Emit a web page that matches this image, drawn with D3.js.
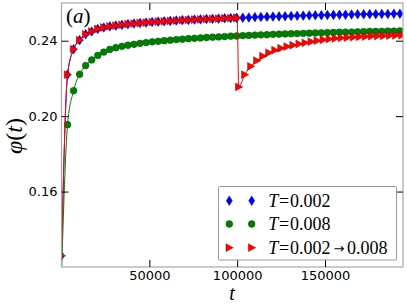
<!DOCTYPE html>
<html><head><meta charset="utf-8">
<script src="https://cdn.jsdelivr.net/npm/d3@7"></script>
<style>body{margin:0;background:#fff} svg{display:block}</style>
</head><body><svg id="c" width="407" height="304"></svg>
<script>
// ---- data ----
const tGrid = [0, 3440, 6880, 10320, 13760, 17200, 20640, 24080, 27520, 30960, 34400, 37840, 41280, 44720, 48160, 51600, 55040, 58480, 61920, 65360, 68800, 72240, 75680, 79120, 82560, 86000, 89440, 92880, 96320, 99760, 103200, 106640, 110080, 113520, 116960, 120400, 123840, 127280, 130720, 134160, 137600, 141040, 144480, 147920, 151360, 154800, 158240, 161680, 165120, 168560, 172000, 175440, 178880, 182320, 185760, 189200, 192640];
const phiT002 = [0.126, 0.2220, 0.2355, 0.2403, 0.2434, 0.2449, 0.2462, 0.2470, 0.2476, 0.2480, 0.2484, 0.2488, 0.2491, 0.2494, 0.2496, 0.2499, 0.2501, 0.2503, 0.2505, 0.2507, 0.2509, 0.2510, 0.2512, 0.2513, 0.2515, 0.2516, 0.2517, 0.2519, 0.2520, 0.2521, 0.2522, 0.2523, 0.2525, 0.2526, 0.2527, 0.2528, 0.2529, 0.2530, 0.2531, 0.2532, 0.2533, 0.2534, 0.2535, 0.2535, 0.2536, 0.2537, 0.2538, 0.2538, 0.2539, 0.2540, 0.2540, 0.2541, 0.2541, 0.2542, 0.2542, 0.2543, 0.2543];
const phiT008 = [0.116, 0.1955, 0.2135, 0.2222, 0.2268, 0.2298, 0.2322, 0.2340, 0.2354, 0.2363, 0.2370, 0.2376, 0.2381, 0.2386, 0.2390, 0.2394, 0.2397, 0.2400, 0.2403, 0.2406, 0.2408, 0.2411, 0.2413, 0.2415, 0.2417, 0.2419, 0.2420, 0.2422, 0.2424, 0.2425, 0.2427, 0.2428, 0.2430, 0.2431, 0.2432, 0.2434, 0.2435, 0.2436, 0.2437, 0.2438, 0.2439, 0.2440, 0.2441, 0.2442, 0.2443, 0.2444, 0.2445, 0.2446, 0.2446, 0.2447, 0.2448, 0.2449, 0.2449, 0.2450, 0.2451, 0.2451, 0.2452];
const redT = [0, 3440, 6880, 10320, 13760, 17200, 20640, 24080, 27520, 30960, 34400, 37840, 41280, 44720, 48160, 51600, 55040, 58480, 61920, 65360, 68800, 72240, 75680, 79120, 82560, 86000, 89440, 92880, 96320, 99760, 100000,
  100900, 104340, 107780, 111220, 114660, 118100, 121540, 124980, 128420, 131860, 135300, 138740, 142180, 145620, 149060, 152500, 155940, 159380, 162820, 166260, 169700, 173140, 176580, 180020, 183460, 186900, 190340, 193780];
const redPhi = [0.126, 0.2220, 0.2355, 0.2403, 0.2434, 0.2449, 0.2462, 0.2470, 0.2476, 0.2480, 0.2484, 0.2488, 0.2491, 0.2494, 0.2496, 0.2499, 0.2501, 0.2503, 0.2505, 0.2507, 0.2509, 0.2510, 0.2512, 0.2513, 0.2515, 0.2516, 0.2517, 0.2519, 0.2520, 0.2521, 0.2521,
  0.2155, 0.2220, 0.2264, 0.2294, 0.2318, 0.2336, 0.2350, 0.2360, 0.2369, 0.2376, 0.2383, 0.2389, 0.2395, 0.2400, 0.2405, 0.2409, 0.2412, 0.2415, 0.2417, 0.2419, 0.2421, 0.2422, 0.2424, 0.2425, 0.2426, 0.2427, 0.2428, 0.2429];
const yTicks = [0.16, 0.20, 0.24];
const xTicks = [50000, 100000, 150000];
const legendFrom = ["0.002", "0.008", "0.002"];
const legendTo = [null, null, "0.008"];

// ---- layout ----
const svg = d3.select('#c');
const L = 61.5, R = 403, T = 3, B = 267;
const x = d3.scaleLinear().domain([0, 194400]).range([L, R]);
const y = d3.scaleLinear().domain([0.12, 0.26]).range([B, T]);

svg.append('defs').append('clipPath').attr('id', 'clip')
  .append('rect').attr('x', L).attr('y', T).attr('width', R - L).attr('height', B - T);

const styles = [
  {color: '#0000ff', edge: '#00008b', shape: 'diamond'},
  {color: '#008000', edge: '#005000', shape: 'circle'},
  {color: '#ff0000', edge: '#a00000', shape: 'tri'}
];
function markerPath(shape) {
  if (shape === 'diamond') return 'M0,-4.8L3,0L0,4.8L-3,0Z';
  if (shape === 'tri') return 'M-3.3,-3.9L4,0L-3.3,3.9Z';
  return d3.symbol(d3.symbolCircle, 36)();
}

const series = [
  {t: tGrid, v: phiT002, s: styles[0]},
  {t: tGrid, v: phiT008, s: styles[1]},
  {t: redT, v: redPhi, s: styles[2]}
];

const plot = svg.append('g').attr('clip-path', 'url(#clip)');
const line = d3.line().x(d => x(d[0])).y(d => y(d[1])).curve(d3.curveMonotoneX);

series.forEach(sr => {
  const pts = sr.t.map((t, i) => [t, sr.v[i]]);
  const g = plot.append('g');
  g.append('path').datum(pts).attr('d', line)
    .attr('fill', 'none').attr('stroke', sr.s.color).attr('stroke-width', 1);
  g.selectAll('path.m').data(pts).enter().append('path').attr('class', 'm')
    .attr('d', markerPath(sr.s.shape))
    .attr('transform', d => `translate(${x(d[0])},${y(d[1])})`)
    .attr('fill', sr.s.color).attr('stroke', sr.s.edge).attr('stroke-width', 0.5);
});

// frame
svg.append('rect').attr('x', L).attr('y', T).attr('width', R - L).attr('height', B - T)
  .attr('fill', 'none').attr('stroke', '#a8a8a8').attr('stroke-width', 1.2);

// axes
function styleAxis(g) {
  g.select('.domain').remove();
  g.selectAll('.tick line').attr('stroke', '#000').attr('stroke-width', 1);
  g.selectAll('.tick text').attr('fill', '#000')
    .style('font-family', '"DejaVu Sans", sans-serif').style('font-size', '13px');
}
svg.append('g').attr('transform', `translate(${L},0)`)
  .call(d3.axisLeft(y).tickValues(yTicks).tickSize(-7).tickPadding(4).tickFormat(d3.format('.2f'))).call(styleAxis);
svg.append('g').attr('transform', `translate(${R},0)`)
  .call(d3.axisRight(y).tickValues(yTicks).tickSize(-7).tickFormat('')).call(styleAxis);
svg.append('g').attr('transform', `translate(0,${B})`)
  .call(d3.axisBottom(x).tickValues(xTicks).tickSize(-7).tickPadding(4).tickFormat(d3.format('d'))).call(styleAxis);
svg.append('g').attr('transform', `translate(0,${T})`)
  .call(d3.axisTop(x).tickValues(xTicks).tickSize(-7).tickFormat('')).call(styleAxis);

// labels
const serif = '"Liberation Serif", "DejaVu Serif", serif';
const yl = svg.append('text').attr('transform', 'translate(22,136) rotate(-90)')
  .attr('text-anchor', 'middle').style('font-family', serif).style('font-size', '24px');
yl.append('tspan').style('font-style', 'italic').text('φ');
yl.append('tspan').text('(');
yl.append('tspan').style('font-style', 'italic').text('t');
yl.append('tspan').text(')');

svg.append('text').attr('x', 232).attr('y', 300).attr('text-anchor', 'middle')
  .style('font-family', serif).style('font-style', 'italic').style('font-size', '20px').text('t');

const pa = svg.append('text').attr('x', 66).attr('y', 23).style('font-family', serif).style('font-size', '21px');
pa.append('tspan').text('(');
pa.append('tspan').style('font-style', 'italic').text('a');
pa.append('tspan').text(')');

// legend
const lg = svg.append('g');
lg.append('rect').attr('x', 218.5).attr('y', 186.5).attr('width', 178).attr('height', 73.5)
  .attr('fill', '#fff').attr('fill-opacity', 0.9).attr('stroke', '#999').attr('stroke-width', 1).attr('rx', 1);
const rowY = [200.7, 224, 247.7];
styles.forEach((s, i) => {
  [229.3, 251.7].forEach(mx => {
    lg.append('path').attr('d', markerPath(s.shape))
      .attr('transform', `translate(${mx},${rowY[i]})`)
      .attr('fill', s.color).attr('stroke', s.edge).attr('stroke-width', 0.5);
  });
  const txt = lg.append('text').attr('y', rowY[i] + 5.8).style('font-family', serif).style('font-size', '18px');
  txt.append('tspan').attr('x', 268.3).style('font-style', 'italic').text('T');
  txt.append('tspan').attr('x', 279).text('=');
  txt.append('tspan').attr('x', 290).text(legendFrom[i]);
  if (legendTo[i]) {
    txt.append('tspan').attr('x', 333.5).attr('dy', -0.5)
      .style('font-family', '"DejaVu Sans", sans-serif').style('font-size', '13px').text('→');
    txt.append('tspan').attr('x', 347).attr('dy', 0.5).text(legendTo[i]);
  }
});
</script></body></html>
